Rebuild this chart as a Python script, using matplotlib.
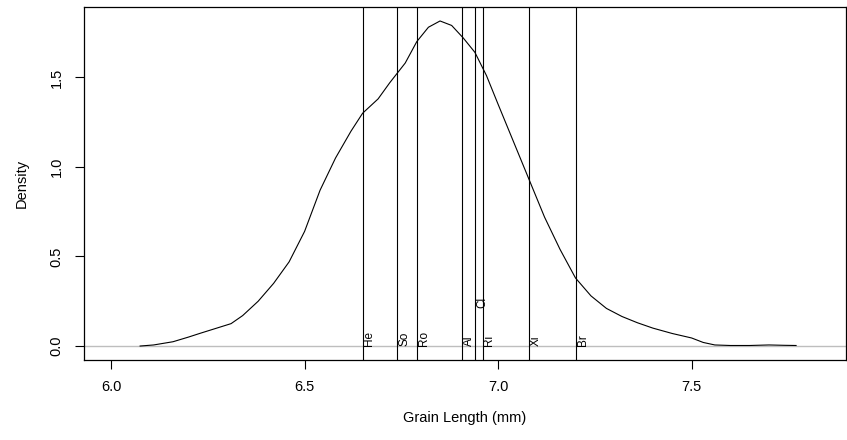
import matplotlib
matplotlib.use("Agg")
import matplotlib.pyplot as plt

# kernel density estimate of grain length (mm)
grain_x = [6.075, 6.11, 6.16, 6.20, 6.23, 6.27, 6.31, 6.34, 6.38, 6.42, 6.46,
           6.50, 6.54, 6.58, 6.62, 6.65, 6.69, 6.72, 6.76, 6.79, 6.82, 6.85,
           6.88, 6.91, 6.94, 6.97, 7.00, 7.04, 7.08, 7.12, 7.16, 7.20, 7.24,
           7.28, 7.32, 7.36, 7.40, 7.45, 7.50, 7.53, 7.56, 7.60, 7.65, 7.70,
           7.74, 7.77]
grain_density = [0.000, 0.006, 0.024, 0.050, 0.071, 0.098, 0.125, 0.170, 0.250,
                 0.350, 0.470, 0.640, 0.870, 1.050, 1.200, 1.300, 1.380, 1.470,
                 1.580, 1.700, 1.780, 1.815, 1.790, 1.720, 1.640, 1.510, 1.350,
                 1.140, 0.930, 0.720, 0.540, 0.380, 0.280, 0.210, 0.165, 0.130,
                 0.100, 0.070, 0.045, 0.020, 0.006, 0.003, 0.003, 0.006, 0.004,
                 0.003]

# mean grain length per variety
varieties = ["He", "So", "Ro", "Al", "Cl", "Ri", "Xi", "Br"]
variety_means = [6.650, 6.740, 6.790, 6.906, 6.941, 6.960, 7.081, 7.202]
label_heights = [0.0, 0.0, 0.0, 0.0, 0.21, 0.0, 0.0, 0.0]

plt.rcParams["font.family"] = ["Liberation Sans", "DejaVu Sans"]

fig = plt.figure(figsize=(8.47, 4.40), dpi=100)
ax = fig.add_axes([84 / 847, 1 - 360 / 440, 762 / 847, 353 / 440])

ax.axhline(0, color="#bebebe", lw=1.0)
ax.plot(grain_x, grain_density, color="black", lw=0.8)
for name, m, h in zip(varieties, variety_means, label_heights):
    ax.axvline(m, color="black", lw=0.8)
    ax.text(m + 0.002, h, name, rotation=90, ha="left", va="bottom", fontsize=8.5)

ax.set_xlim(5.930, 7.899)
ax.set_ylim(-0.078, 1.893)
ax.set_xticks([6.0, 6.5, 7.0, 7.5])
ax.set_yticks([0.0, 0.5, 1.0, 1.5])
ax.set_xticklabels(["6.0", "6.5", "7.0", "7.5"])
ax.set_yticklabels(["0.0", "0.5", "1.0", "1.5"], rotation=90, va="center")
ax.tick_params(direction="out", length=6.5, width=0.8, labelsize=10.5, pad=8)
for s in ax.spines.values():
    s.set_linewidth(0.9)

ax.set_xlabel("Grain Length (mm)", fontsize=10.5, labelpad=12)
ax.set_ylabel("Density", fontsize=10.5, labelpad=15)

fig.savefig("out.png", dpi=100)
